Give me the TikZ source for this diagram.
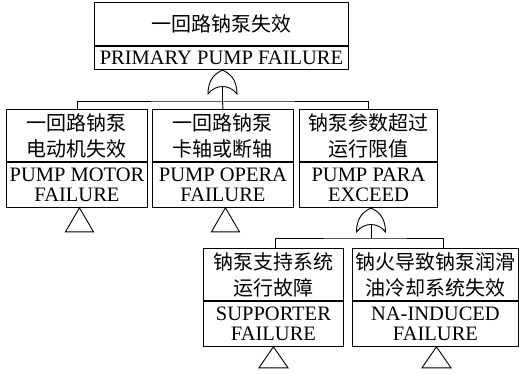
\documentclass[tikz,border=0pt]{standalone}
\usepackage{fontspec}
\setmainfont{Liberation Serif}
\newfontfamily\cjk{Noto Sans CJK SC}
\begin{document}
\begin{tikzpicture}[x=1pt,y=-1pt,
  line/.style={line width=0.9pt},
  cnbox/.style={draw,line width=0.9pt,inner sep=0pt,align=center,anchor=north west,
    font=\cjk\fontsize{20}{26}\selectfont},
  enbox/.style={draw,line width=0.9pt,inner sep=0pt,align=center,anchor=north,
    font=\fontsize{20.5}{20.5}\selectfont},
  orgate/.pic={
    \draw[line] (-14.5,24) .. controls (-14.5,8) and (-6,3) .. (0,0)
      .. controls (6,3) and (14.5,8) .. (14.5,24)
      .. controls (7,14) and (-7,14) .. cycle;
    \coordinate (-top) at (0,0);
    \coordinate (-out) at (0,16.5);
  },
  xfer/.pic={
    \draw[line] (0,0) -- (-14,24) -- (14,24) -- cycle;
  },
  xferb/.pic={
    \draw[line] (0,0) -- (-14.5,21) -- (14.5,21) -- cycle;
  }
]
\useasboundingbox (0,0) rectangle (519,374);

% top event
\node[cnbox,minimum width=254pt,minimum height=43pt] (top-cn) at (94,2) {一回路钠泵失效};
\node[enbox,minimum width=254pt,minimum height=23pt] (top-en) at (top-cn.south) {PRIMARY PUMP FAILURE};

% row 2
\node[cnbox,minimum width=141pt,minimum height=52pt] (b1-cn) at (6,109) {一回路钠泵\\电动机失效};
\node[enbox,minimum width=141pt,minimum height=45pt] (b1-en) at (b1-cn.south) {PUMP MOTOR\\FAILURE};
\node[cnbox,minimum width=141pt,minimum height=52pt] (b2-cn) at (152,109) {一回路钠泵\\卡轴或断轴};
\node[enbox,minimum width=141pt,minimum height=45pt] (b2-en) at (b2-cn.south) {PUMP OPERA\\FAILURE};
\node[cnbox,minimum width=138pt,minimum height=52pt] (b3-cn) at (299,109) {钠泵参数超过\\运行限值};
\node[enbox,minimum width=138pt,minimum height=45pt] (b3-en) at (b3-cn.south) {PUMP PARA\\EXCEED};

% row 3
\node[cnbox,minimum width=140pt,minimum height=52pt] (b4-cn) at (203,248) {钠泵支持系统\\运行故障};
\node[enbox,minimum width=140pt,minimum height=45pt] (b4-en) at (b4-cn.south) {SUPPORTER\\FAILURE};
\node[cnbox,minimum width=166pt,minimum height=52pt] (b5-cn) at (352,248) {钠火导致钠泵润滑\\油冷却系统失效};
\node[enbox,minimum width=166pt,minimum height=45pt] (b5-en) at (b5-cn.south) {NA-INDUCED\\FAILURE};

% gates
\pic (g1) at (222.5,70) {orgate};
\pic (g2) at (371,208) {orgate};
\coordinate (j1) at (222.5,101);
\coordinate (j2) at (371,238);

% connectors
\draw[line] (top-en.south) -- (g1-top);
\draw[line] (g1-out) -- (j1);
\draw[line] (b1-cn.north) |- (j1) -| (b3-cn.north);
\draw[line] (j1) -- (b2-cn.north);
\draw[line] (b3-en.south -| g2-top) -- (g2-top);
\draw[line] (g2-out) -- (j2);
\draw[line] ([xshift=2pt]b4-cn.north) |- (j2) -| ([xshift=8pt]b5-cn.north);

% transfer triangles
\pic at ([xshift=2.5pt]b1-en.south) {xfer};
\pic at ([xshift=2.5pt]b2-en.south) {xfer};
\pic at (b4-en.south) {xferb};
\pic at ([xshift=1pt]b5-en.south) {xferb};
\end{tikzpicture}
\end{document}
